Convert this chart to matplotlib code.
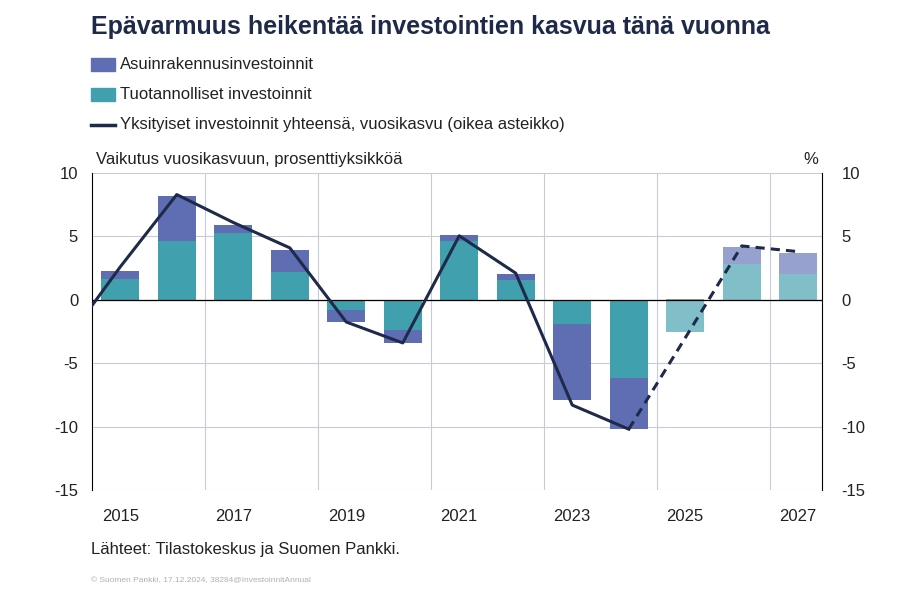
import matplotlib
matplotlib.use("Agg")
import matplotlib.pyplot as plt
from matplotlib.patches import Rectangle
from matplotlib.lines import Line2D

plt.rcParams["font.family"] = "Liberation Sans"
plt.rcParams["axes.unicode_minus"] = False

years = [2015, 2016, 2017, 2018, 2019, 2020, 2021, 2022, 2023, 2024, 2025, 2026, 2027]
tuotannolliset = [1.65, 4.65, 5.3, 2.2, -0.8, -2.35, 4.6, 1.6, -1.9, -6.15, -2.5, 2.85, 2.05]
asuin = [0.65, 3.55, 0.6, 1.75, -0.95, -1.05, 0.55, 0.45, -6.0, -4.05, 0.1, 1.35, 1.65]
forecast = [False] * 10 + [True] * 3
line_years = [2014, 2015, 2016, 2017, 2018, 2019, 2020, 2021, 2022, 2023, 2024]
line_vals = [-3.5, 2.6, 8.3, 6.1, 4.1, -1.75, -3.4, 5.05, 2.1, -8.3, -10.2]
fc_years = [2024, 2025, 2026, 2027]
fc_vals = [-10.2, -3.0, 4.25, 3.8]

ASUIN = "#5f6eb3"
ASUIN_FC = "#97a1d0"
TEAL = "#40a0ad"
TEAL_FC = "#80bec8"
INK = "#1f2a4a"
GRID = "#c8cad8"

fig = plt.figure(figsize=(9.22, 6.02), dpi=100)
ax = fig.add_axes([0.0998, 0.186, 0.7917, 0.5266])

for y, t, a, f in zip(years, tuotannolliset, asuin, forecast):
    ct = TEAL_FC if f else TEAL
    ca = ASUIN_FC if f else ASUIN
    ax.bar(y, t, width=0.68, color=ct, zorder=2)
    base = t if (a >= 0) == (t >= 0) else 0
    ax.bar(y, a, bottom=base, width=0.68, color=ca, zorder=2)

ax.plot(line_years, line_vals, color=INK, lw=2.2, zorder=3)
ax.plot(fc_years, fc_vals, color=INK, lw=2.2, ls=(0, (3, 2)), zorder=3)

ax.set_xlim(2014.5, 2027.42)
ax.set_ylim(-15, 10)
ax.set_yticks(range(-15, 11, 5))
ax.set_xticks(range(2015, 2028, 2))
ax.set_xticks([2016.5, 2018.5, 2020.5, 2022.5, 2024.5, 2026.5], minor=True)
ax.grid(axis="y", color=GRID, lw=0.8, zorder=0)
ax.grid(axis="x", which="minor", color=GRID, lw=0.8, zorder=0)
ax.axhline(0, color="black", lw=0.9, zorder=2.5)
for s in ["top", "bottom"]:
    ax.spines[s].set_visible(False)
ax.spines["left"].set_color("black")
ax.spines["right"].set_color("black")
ax.tick_params(which="both", length=0, labelsize=12, colors="#222222", pad=10)
ax.tick_params(axis="x", pad=14)
ax2 = ax.twinx()
ax2.set_ylim(-15, 10)
ax2.set_yticks(range(-15, 11, 5))
ax2.tick_params(length=0, labelsize=12, colors="#222222", pad=14)
for s in ax2.spines.values():
    s.set_visible(False)

fig.text(0.099, 0.955, "Epävarmuus heikentää investointien kasvua tänä vuonna",
         fontsize=18, fontweight="bold", color=INK, va="center")
items = [("Asuinrakennusinvestoinnit", ASUIN, "patch"),
         ("Tuotannolliset investoinnit", TEAL, "patch"),
         ("Yksityiset investoinnit yhteensä, vuosikasvu (oikea asteikko)", INK, "line")]
for i, (lab, c, kind) in enumerate(items):
    yy = 0.893 - i * 0.05
    if kind == "patch":
        fig.patches.append(Rectangle((0.099, yy - 0.011), 0.026, 0.022, color=c,
                                     transform=fig.transFigure, figure=fig))
    else:
        fig.lines.append(Line2D([0.099, 0.125], [yy, yy], color=c, lw=2.5,
                                transform=fig.transFigure, figure=fig))
    fig.text(0.13, yy, lab, fontsize=12, color="#222222", va="center")
fig.text(0.104, 0.735, "Vaikutus vuosikasvuun, prosenttiyksikköä", fontsize=12,
         color="#222222", va="center")
fig.text(0.887, 0.735, "%", fontsize=12, color="#222222", va="center", ha="right")
fig.text(0.099, 0.087, "Lähteet: Tilastokeskus ja Suomen Pankki.", fontsize=12,
         color="#222222", va="center")
fig.text(0.099, 0.035, "© Suomen Pankki, 17.12.2024, 38284@InvestoinnitAnnual",
         fontsize=6, color="#b0b0b0", va="center")

fig.savefig("out.png", dpi=100)
